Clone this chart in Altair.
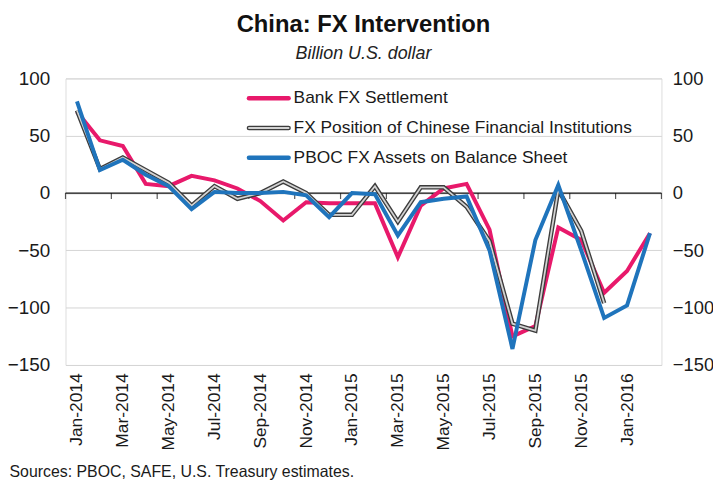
import json
import altair as alt
import pandas as pd

# ---------------- data ----------------
months = [
    "Jan-2014", "Feb-2014", "Mar-2014", "Apr-2014", "May-2014", "Jun-2014",
    "Jul-2014", "Aug-2014", "Sep-2014", "Oct-2014", "Nov-2014", "Dec-2014",
    "Jan-2015", "Feb-2015", "Mar-2015", "Apr-2015", "May-2015", "Jun-2015",
    "Jul-2015", "Aug-2015", "Sep-2015", "Oct-2015", "Nov-2015", "Dec-2015",
    "Jan-2016", "Feb-2016",
]
bank_fx_settlement = [71, 46, 41, 8, 6, 15, 11, 4, -7, -24, -8, -9, -9, -9,
                      -56, -11, 4, 8, -32, -125, -116, -30, -41, -87, -68, -35]
fx_position = [72, 21, 31, 20, 9, -11, 6, -5, 0, 10, 0, -19, -19, 6,
               -25, 5, 5, -12, -42, -114, -120, 3, -33, -96, None, None]
pboc_fx_assets = [80, 20, 29, 16, 6, -14, 1, 0, 0, 1, -2, -21, 0, -1,
                  -37, -8, -5, -3, -50, -136, -41, 7, -50, -109, -98, -35]
series_names = [
    "Bank FX Settlement",
    "FX Position of Chinese Financial Institutions",
    "PBOC FX Assets on Balance Sheet",
]
y_ticks = [100, 50, 0, -50, -100, -150]

rows = []
for name, vals in zip(series_names, [bank_fx_settlement, fx_position, pboc_fx_assets]):
    for i, v in enumerate(vals):
        if v is not None:
            rows.append({"idx": i, "month": months[i], "series": name, "value": v})
df = pd.DataFrame(rows)

n = len(months)
label_values = list(range(0, n, 2))
tick_df = pd.DataFrame({"idx": [k - 0.5 for k in range(0, n + 1, 2)], "value": 0})
zero_df = pd.DataFrame({"value": [0]})
legend_df = pd.DataFrame({"series": series_names})

# ---------------- style ----------------
FONT = "Liberation Sans, Arial, sans-serif"
PINK = "#E8196B"
BLUE = "#1F74BC"
GRAY_DARK = "#3c3c3c"
GRAY_LIGHT = "#d2d2d2"
TXT = "#1a1a1a"

x_scale = alt.Scale(domain=[-0.5, n - 0.5], nice=False, zero=False)
y_scale = alt.Scale(domain=[-150, 100], nice=False, zero=False)
color_scale = alt.Scale(domain=series_names, range=[PINK, GRAY_DARK, BLUE])

x_axis = alt.Axis(
    values=label_values,
    labelExpr=json.dumps(months) + "[datum.value]",
    labelAngle=-90, labelFontSize=17.5, labelPadding=8, labelColor=TXT,
    labelFont=FONT, labelFlush=False, labelOverlap=False,
    domain=False, ticks=False, grid=False,
    title="Sources: PBOC, SAFE, U.S. Treasury estimates.",
    titleX=-57, titleY=112, titleAlign="left", titleBaseline="alphabetic",
    titleAnchor="start", titleAngle=0, titleFont=FONT, titleFontSize=16,
    titleFontWeight="normal", titleColor=TXT,
)
x_enc = alt.X("idx:Q", scale=x_scale, axis=x_axis)

y_left = alt.Axis(values=y_ticks, grid=True, gridColor="#d4d4d4", gridWidth=1,
                  domain=False, ticks=False, labelFontSize=19, labelPadding=16,
                  labelFont=FONT, labelColor=TXT, title=None, orient="left")
y_right = alt.Axis(values=y_ticks, grid=False, domain=False, ticks=False,
                   labelFontSize=18.5, labelPadding=11, labelFont=FONT,
                   labelColor=TXT, title=None, orient="right")

base = alt.Chart(df)

zero_line = alt.Chart(zero_df).mark_rule(color="#111111", strokeWidth=1.3).encode(
    y=alt.Y("value:Q", scale=y_scale, axis=None))

ticks = alt.Chart(tick_df).mark_tick(orient="vertical", size=6, thickness=1.2,
                                     yOffset=3, color="#111111").encode(
    x=x_enc, y=alt.Y("value:Q", scale=y_scale, axis=None))


def series_line(name, width, axis, color=None):
    enc = dict(x=x_enc, y=alt.Y("value:Q", scale=y_scale, axis=axis))
    if color is None:
        enc["color"] = alt.Color("series:N", scale=color_scale, legend=None)
        mark = dict(strokeWidth=width, strokeJoin="miter")
    else:
        mark = dict(strokeWidth=width, strokeJoin="miter", color=color)
    return base.transform_filter(alt.datum.series == name).mark_line(**mark).encode(**enc)


pink = series_line(series_names[0], 4, y_left)
gray_outer = series_line(series_names[1], 4.5, None)
gray_inner = series_line(series_names[1], 1.8, None, color=GRAY_LIGHT)
blue = series_line(series_names[2], 4, y_right)

# ---------------- legend (built from the series names) ----------------
legend_y = alt.Y("series:N", axis=None,
                 scale=alt.Scale(type="point", domain=series_names, range=[20, 80],
                                 padding=0))
leg_outer = alt.Chart(legend_df).mark_rule(strokeWidth=4.5, strokeCap="round").encode(
    x=alt.value(185), x2=alt.value(225), y=legend_y,
    color=alt.Color("series:N", scale=color_scale, legend=None))
leg_inner = alt.Chart(legend_df).transform_filter(
    alt.datum.series == series_names[1]).mark_rule(
    strokeWidth=1.8, strokeCap="round", color=GRAY_LIGHT).encode(
    x=alt.value(185), x2=alt.value(225), y=legend_y)
leg_text = alt.Chart(legend_df).mark_text(
    align="left", baseline="middle", font=FONT, fontSize=17.5, color=TXT).encode(
    x=alt.value(230), y=legend_y, text="series:N")

chart = alt.layer(
    zero_line, ticks, pink, gray_outer, gray_inner, blue, leg_outer, leg_inner, leg_text
).resolve_scale(y="independent").resolve_axis(y="independent").properties(
    width=601, height=289,
    padding={"left": 58, "top": 69, "right": 52, "bottom": 115},
    autosize=alt.AutoSizeParams(type="none"),
    title=alt.TitleParams(
        text="China: FX Intervention", subtitle="Billion U.S. dollar",
        font=FONT, fontSize=24, fontWeight="bold", color="#111111",
        subtitleFont=FONT, subtitleFontSize=18, subtitleFontStyle="italic",
        subtitleColor="#222222", subtitlePadding=8, anchor="middle", offset=7,
    ),
).configure_view(stroke="#cfcfcf", strokeWidth=1).configure(background="white")

chart.save("out.html", embed_options={"renderer": "svg", "actions": False})
